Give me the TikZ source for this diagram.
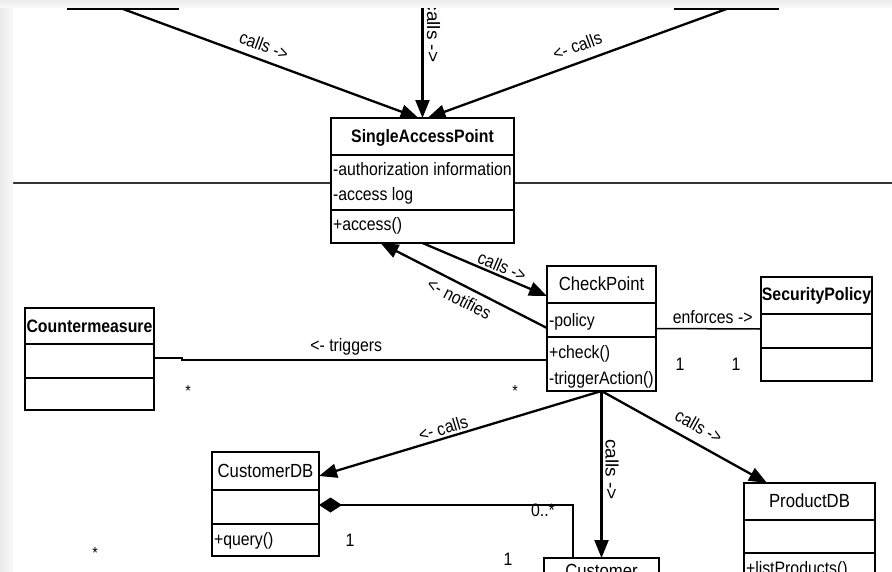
\documentclass[tikz,border=0pt]{standalone}
\usepackage{fontspec}
\setmainfont[FakeStretch=0.88]{Liberation Sans}
\usetikzlibrary{arrows.meta}
\definecolor{framedark}{HTML}{EBEBEB}
\definecolor{framelight}{HTML}{F8F8F8}
\definecolor{divider}{HTML}{333333}
\begin{document}
\begin{tikzpicture}[x=1pt,y=-1pt,
  every node/.style={inner sep=0pt,outer sep=0pt,font=\fontsize{18}{22}\selectfont},
  classbox/.style={draw,line width=1.6pt,fill=white,anchor=north west},
  keybox/.style={classbox,line width=2.6pt},
  sepline/.style={line width=1.6pt},
  keysep/.style={line width=2.4pt},
  title/.style={anchor=base},
  plaintitle/.style={title,font=\fontsize{19}{22}\selectfont},
  member/.style={anchor=base west},
  mult/.style={anchor=base},
  star/.style={anchor=north,font=\fontsize{16}{18}\selectfont},
  callarrow/.style={line width=2.3pt,-{Triangle[length=18pt,width=14pt]}},
  assoc/.style={line width=1.5pt},
  comp/.style={line width=1.5pt,{Diamond[length=23pt,width=15pt]}-},
  edgelabel/.style={sloped}
]
\clip (0,0) rectangle (892,571);
\fill[white] (0,0) rectangle (892,571);

% boundary line behind the access point
\draw[divider,line width=1.8pt] (13,183) -- (892,183);

% classes above the boundary (only their lower edges show)
\node[classbox,minimum width=110pt,minimum height=40pt] (clientA) at (68,-31) {};
\node[classbox,minimum width=103pt,minimum height=40pt] (clientB) at (675,-31) {};
\coordinate (clientC) at (422.5,-5);

% SingleAccessPoint
\node[classbox,minimum width=183pt,minimum height=125pt] (sap) at (331,118) {};
\draw[sepline] ([yshift=-37pt]sap.north west) -- ([yshift=-37pt]sap.north east);
\draw[sepline] ([yshift=-92pt]sap.north west) -- ([yshift=-92pt]sap.north east);
\node[title] (sap-name) at (422.5,142) {\bfseries SingleAccessPoint};
\node[member] (sap-a1) at (333,175.5) {-authorization information};
\node[member] (sap-a2) at (333,200.5) {-access log};
\node[member] (sap-m1) at (333,230.5) {+access()};

% CheckPoint
\node[keybox,minimum width=109pt,minimum height=125pt] (cp) at (547,266) {};
\draw[keysep] ([yshift=-37pt]cp.north west) -- ([yshift=-37pt]cp.north east);
\draw[keysep] ([yshift=-71pt]cp.north west) -- ([yshift=-71pt]cp.north east);
\node[plaintitle] (cp-name) at (601.5,290) {CheckPoint};
\node[member] (cp-a1) at (549,326) {-policy};
\node[member] (cp-m1) at (549,358) {+check()};
\node[member] (cp-m2) at (549,384) {-triggerAction()};

% SecurityPolicy
\node[classbox,minimum width=111pt,minimum height=104pt] (sp) at (761,277) {};
\draw[sepline] ([yshift=-37pt]sp.north west) -- ([yshift=-37pt]sp.north east);
\draw[sepline] ([yshift=-71pt]sp.north west) -- ([yshift=-71pt]sp.north east);
\node[title] (sp-name) at (816.5,300.5) {\bfseries SecurityPolicy};

% Countermeasure
\node[classbox,minimum width=129pt,minimum height=102pt] (cm) at (25,308) {};
\draw[sepline] ([yshift=-36pt]cm.north west) -- ([yshift=-36pt]cm.north east);
\draw[sepline] ([yshift=-70pt]cm.north west) -- ([yshift=-70pt]cm.north east);
\node[title] (cm-name) at (89.5,332.5) {\bfseries Countermeasure};

% CustomerDB
\node[classbox,minimum width=107pt,minimum height=104pt] (cdb) at (212,452) {};
\draw[sepline] ([yshift=-38pt]cdb.north west) -- ([yshift=-38pt]cdb.north east);
\draw[sepline] ([yshift=-72pt]cdb.north west) -- ([yshift=-72pt]cdb.north east);
\node[plaintitle] (cdb-name) at (265.5,477) {CustomerDB};
\node[member] (cdb-m1) at (214,545) {+query()};

% ProductDB
\node[classbox,minimum width=131pt,minimum height=120pt] (pdb) at (744,483) {};
\draw[sepline] ([yshift=-37pt]pdb.north west) -- ([yshift=-37pt]pdb.north east);
\draw[sepline] ([yshift=-70pt]pdb.north west) -- ([yshift=-70pt]pdb.north east);
\node[plaintitle] (pdb-name) at (809.5,507) {ProductDB};
\node[member] (pdb-m1) at (746,574) {+listProducts()};

% Customer
\node[classbox,minimum width=115pt,minimum height=100pt] (cust) at (544,558) {};
\node[plaintitle] (cust-name) at (601.5,577) {Customer};

% calls into the access point
\draw[callarrow] (clientA.south) -- node[edgelabel,pos=0.46,above=8pt] (lblA) {calls ->} ([xshift=-4pt]sap.north);
\draw[callarrow] (clientC) -- node[edgelabel,pos=0.3,above=4.5pt] (lblC) {\scalebox{1.2}[1]{calls ->}} (sap.north);
\draw[callarrow] (clientB.south) -- node[edgelabel,pos=0.48,above=10pt] (lblB) {<- calls} ([xshift=5pt]sap.north);

% access point and check point
\draw[callarrow] (sap.south) -- node[edgelabel,pos=0.61,above=3pt] (lblSC) {calls ->} ([yshift=-30pt]cp.north west);
\draw[callarrow] ([yshift=-62pt]cp.north west) -- node[edgelabel,pos=0.49,below=7pt] (lblN) {<- notifies} ([xshift=-42pt]sap.south);

% associations of the check point
\draw[assoc] ([yshift=-50pt]cm.north east) -- ++(28,0) -- ++(0,2)
  -- node[pos=0.45,above=5pt] (lblT) {<- triggers} ([yshift=-94pt]cp.north west);
\draw[assoc] (cp.east) -- node[pos=0.54,above=5pt] (lblE) {enforces ->} (sp.west);

% calls from the check point
\draw[callarrow] (cp.south) -- node[edgelabel,pos=0.55,above=3.5pt] (lblD) {<- calls} ([yshift=-24pt]cdb.north east);
\draw[callarrow] (cp.south) -- node[edgelabel,pos=0.47,above=4pt] (lblU) {\scalebox{1.2}[1]{calls ->}} (cust.north);
\draw[callarrow] (cp.south) -- node[edgelabel,pos=0.54,above=10pt] (lblP) {calls ->} ([xshift=23pt]pdb.north west);

% composition of customers in the customer database
\draw[comp] ([yshift=-53pt]cdb.north east) -| ([xshift=29pt]cust.north west);

% multiplicities
\node[mult] (m-e1) at (680,370) {1};
\node[mult] (m-e2) at (736,370) {1};
\node[mult] (m-c1) at (350,546) {1};
\node[mult] (m-c2) at (508,565) {1};
\node[mult] (m-c3) at (543,516) {0..*};
\node[star] (m-t1) at (188,385) {*};
\node[star] (m-t2) at (515,385) {*};
\node[star] (m-x1) at (95,547) {*};

% window frame
\shade[left color=framedark,right color=framelight] (0,0) rectangle (13,571);
\shade[top color=framedark,bottom color=framelight] (0,0) rectangle (892,7);
\end{tikzpicture}
\end{document}
